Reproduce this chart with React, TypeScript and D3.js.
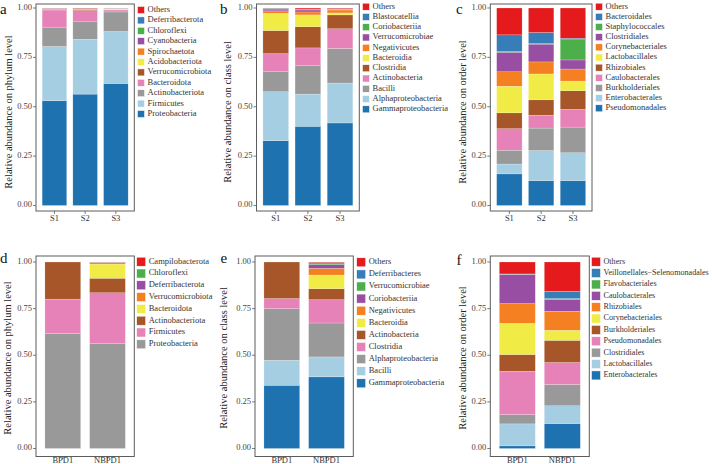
import * as d3 from "d3"

// palette, bottom of the stack first
const darkBlue = "#1F72B0"
const lightBlue = "#A6CEE3"
const grey = "#999999"
const pink = "#E682B8"
const brown = "#A65628"
const yellow = "#F0EB45"
const orange = "#F58021"
const purple = "#984EA3"
const green = "#4DAF4A"
const blue = "#377EB8"
const red = "#E41A1C"

const colors11 = [darkBlue, lightBlue, grey, pink, brown, yellow, orange, purple, green, blue, red]
const colors8 = [grey, pink, brown, yellow, orange, purple, green, red]

const groupsS = ["S1", "S2", "S3"]
const groupsBPD = ["BPD1", "NBPD1"]

// a - phylum (bottom -> top)
const phylumTaxaA = [
  "Proteobacteria", "Firmicutes", "Actinobacteriota", "Bacteroidota", "Verrucomicrobiota",
  "Acidobacteriota", "Spirochaetota", "Cyanobacteria", "Chloroflexi", "Deferribacterota", "Others",
]
const phylumS1 = [0.53, 0.275, 0.098, 0.087, 0.004, 0.001, 0.001, 0.001, 0.001, 0.001, 0.001]
const phylumS2 = [0.564, 0.278, 0.088, 0.057, 0.005, 0.001, 0.001, 0.002, 0.001, 0.001, 0.002]
const phylumS3 = [0.618, 0.263, 0.099, 0.01, 0.001, 0.004, 0.003, 0.001, 0.0005, 0.0005, 0.0]

// b - class
const classTaxaB = [
  "Gammaproteobacteria", "Alphaproteobacteria", "Bacilli", "Actinobacteria", "Clostridia",
  "Bacteroidia", "Negativicutes", "Verrucomicrobiae", "Coriobacteriia", "Blastocatellia", "Others",
]
const classS1 = [0.328, 0.248, 0.101, 0.092, 0.117, 0.087, 0.012, 0.005, 0.007, 0.002, 0.001]
const classS2 = [0.401, 0.163, 0.144, 0.09, 0.107, 0.06, 0.015, 0.01, 0.002, 0.003, 0.005]
const classS3 = [0.418, 0.202, 0.175, 0.1, 0.07, 0.01, 0.015, 0.003, 0.002, 0.002, 0.003]

// c - order
const orderTaxaC = [
  "Pseudomonadales", "Enterobacterales", "Burkholderiales", "Caulobacterales", "Rhizobiales",
  "Lactobacillales", "Corynebacteriales", "Clostridiales", "Staphylococcales", "Bacteroidales", "Others",
]
const orderS1 = [0.16, 0.05, 0.07, 0.109, 0.08, 0.135, 0.073, 0.099, 0.004, 0.084, 0.136]
const orderS2 = [0.126, 0.152, 0.114, 0.065, 0.078, 0.131, 0.061, 0.09, 0.003, 0.056, 0.124]
const orderS3 = [0.126, 0.141, 0.13, 0.09, 0.094, 0.049, 0.061, 0.046, 0.102, 0.008, 0.153]

// d - phylum, BPD
const phylumTaxaD = [
  "Proteobacteria", "Firmicutes", "Actinobacteriota", "Bacteroidota",
  "Verrucomicrobiota", "Deferribacterota", "Chloroflexi", "Campilobacterota",
]
const phylumBPD1 = [0.616, 0.185, 0.199, 0, 0, 0, 0, 0]
const phylumNBPD1 = [0.562, 0.273, 0.078, 0.076, 0.007, 0.002, 0.001, 0.001]

// e - class, BPD
const classTaxaE = [
  "Gammaproteobacteria", "Bacilli", "Alphaproteobacteria", "Clostridia", "Actinobacteria",
  "Bacteroidia", "Negativicutes", "Coriobacteriia", "Verrucomicrobiae", "Deferribacteres", "Others",
]
const classBPD1 = [0.339, 0.134, 0.277, 0.054, 0.196, 0, 0, 0, 0, 0, 0]
const classNBPD1 = [0.384, 0.107, 0.182, 0.125, 0.059, 0.073, 0.036, 0.02, 0.009, 0.002, 0.003]

// f - order, BPD
const orderTaxaF = [
  "Enterobacterales", "Lactobacillales", "Clostridiales", "Pseudomonadales", "Burkholderiales",
  "Corynebacteriales", "Rhizobiales", "Caulobacterales", "Flavobacteriales",
  "Veillonellales\u2212Selenomonadales", "Others",
]
const orderBPD1 = [0.014, 0.118, 0.05, 0.232, 0.09, 0.167, 0.106, 0.157, 0.001, 0.001, 0.064]
const orderNBPD1 = [0.134, 0.095, 0.114, 0.118, 0.119, 0.054, 0.102, 0.064, 0.004, 0.039, 0.157]

const yTicks = [0, 0.25, 0.5, 0.75, 1]
const font = "'Liberation Serif', 'Times New Roman', serif"

type PanelProps = {
  letter: string
  letterX: number
  letterY: number
  title: string
  titleX: number
  titleY: number
  groups: string[]
  taxa: string[]
  values: number[][]
  colors: string[]
  x0: number
  x1: number
  boxTop: number
  boxBottom: number
  yTop: number
  yBottom: number
  labelY: number
  legendX: number
  legendY: number
  legendStep: number
  legendFont?: number
  swatch: number
}

function Panel(p: PanelProps) {
  const x = d3.scaleBand().domain(p.groups).range([p.x0, p.x1]).paddingInner(0.2).paddingOuter(0.2)
  const y = d3.scaleLinear().domain([0, 1]).range([p.yBottom, p.yTop])
  const rows = p.groups.map((g, i) => {
    const r: any = { group: g }
    p.taxa.forEach((t, j) => (r[t] = p.values[i][j]))
    return r
  })
  const series = d3.stack<any>().keys(p.taxa)(rows)
  const color = d3.scaleOrdinal<string, string>().domain(p.taxa).range(p.colors)
  const legendTaxa = p.taxa.slice().reverse()
  const fmt = d3.format(".2f")

  return (
    <g fontFamily={font}>
      <text x={p.letterX} y={p.letterY} fontSize={15} fill="#111">{p.letter}</text>
      <text
        transform={`translate(${p.titleX},${p.titleY}) rotate(-90)`}
        textAnchor="middle"
        dominantBaseline="middle"
        fontSize={10.5}
        fill="#222"
      >
        {p.title}
      </text>

      {series.map((s) => (
        <g key={s.key} fill={color(s.key)}>
          {s.map((d, i) => {
            const h = y(d[0]) - y(d[1])
            if (h <= 0) return null
            return (
              <rect
                key={i}
                x={x(d.data.group)}
                y={y(d[1])}
                width={x.bandwidth()}
                height={h}
                stroke="#fff"
                strokeOpacity={0.5}
                strokeWidth={0.4}
              />
            )
          })}
        </g>
      ))}

      <rect
        x={p.x0}
        y={p.boxTop}
        width={p.x1 - p.x0}
        height={p.boxBottom - p.boxTop}
        fill="none"
        stroke="#5c5c5c"
        strokeWidth={1}
      />

      {yTicks.map((t) => (
        <g key={t}>
          <line x1={p.x0 - 3} x2={p.x0} y1={y(t)} y2={y(t)} stroke="#5c5c5c" strokeWidth={0.8} />
          <text
            x={p.x0 - 4}
            y={y(t)}
            textAnchor="end"
            dominantBaseline="middle"
            fontSize={8.5}
            fill="#444"
          >
            {fmt(t)}
          </text>
        </g>
      ))}

      {p.groups.map((g) => {
        const cx = (x(g) || 0) + x.bandwidth() / 2
        return (
          <g key={g}>
            <line x1={cx} x2={cx} y1={p.boxBottom} y2={p.boxBottom + 3} stroke="#5c5c5c" strokeWidth={0.8} />
            <text x={cx} y={p.labelY} textAnchor="middle" fontSize={8.5} fill="#333">{g}</text>
          </g>
        )
      })}

      {legendTaxa.map((t, i) => {
        const cy = p.legendY + i * p.legendStep
        return (
          <g key={t}>
            <rect
              x={p.legendX}
              y={cy - p.swatch / 2}
              width={p.swatch}
              height={p.swatch}
              fill={color(t)}
              stroke="#fff"
              strokeWidth={0.5}
            />
            <text
              x={p.legendX + p.swatch + 3}
              y={cy}
              dominantBaseline="middle"
              fontSize={p.legendFont ?? 8.5}
              fill="#333"
            >
              {t}
            </text>
          </g>
        )
      })}
    </g>
  )
}

export default function App() {
  const top = { boxTop: 4, boxBottom: 211, yTop: 8, yBottom: 205.5, swatch: 7, titleY: 112, labelY: 221 }
  const bottom = { boxTop: 256, boxBottom: 456.5, yTop: 262, yBottom: 448.5, swatch: 9, titleY: 358, labelY: 463 }

  return (
    <svg
      width={712}
      height={464}
      style={{ position: "absolute", left: 0, top: 0, background: "#fff" }}
    >
      <Panel
        {...top}
        letter="a" letterX={0} letterY={14}
        title="Relative abundance on phylum level" titleX={10}
        groups={groupsS} taxa={phylumTaxaA} values={[phylumS1, phylumS2, phylumS3]} colors={colors11}
        x0={36} x1={134.3}
        legendX={137.5} legendY={10} legendStep={10.4}
      />
      <Panel
        {...top}
        letter="b" letterX={220} letterY={14}
        title="Relative abundance on class level" titleX={229}
        groups={groupsS} taxa={classTaxaB} values={[classS1, classS2, classS3]} colors={colors11}
        x0={256.5} x1={359.3}
        legendX={362.5} legendY={6.7} legendStep={10.26}
      />
      <Panel
        {...top}
        letter="c" letterX={456} letterY={14}
        title="Relative abundance on order level" titleX={464}
        groups={groupsS} taxa={orderTaxaC} values={[orderS1, orderS2, orderS3]} colors={colors11}
        x0={490.3} x1={592}
        legendX={595.5} legendY={6.7} legendStep={10.16}
      />
      <Panel
        {...bottom}
        letter="d" letterX={0} letterY={263}
        title="Relative abundance on phylum level" titleX={9}
        groups={groupsBPD} taxa={phylumTaxaD} values={[phylumBPD1, phylumNBPD1]} colors={colors8}
        x0={36} x1={134.3}
        legendX={136.7} legendY={261.7} legendStep={11.8}
      />
      <Panel
        {...bottom}
        letter="e" letterX={220.5} letterY={263}
        title="Relative abundance on class level" titleX={225}
        groups={groupsBPD} taxa={classTaxaE} values={[classBPD1, classNBPD1]} colors={colors11}
        x0={255} x1={353.3}
        legendX={356.7} legendY={262.3} legendStep={12.1}
      />
      <Panel
        {...bottom}
        letter="f" letterX={456.5} letterY={265}
        title="Relative abundance on order level" titleX={464}
        groups={groupsBPD} taxa={orderTaxaF} values={[orderBPD1, orderNBPD1]} colors={colors11}
        x0={490.3} x1={589.3}
        legendX={591.5} legendY={261.7} legendStep={11.37} legendFont={8.1}
      />
    </svg>
  )
}
